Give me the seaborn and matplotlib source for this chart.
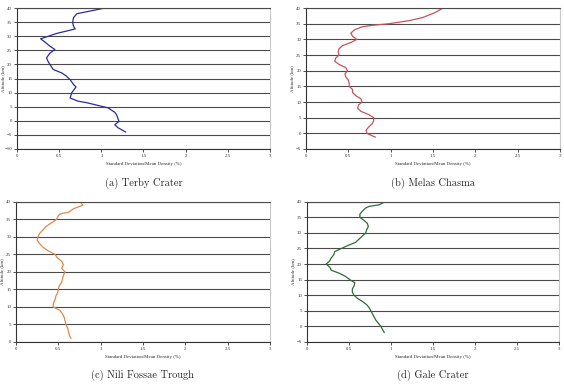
import numpy as np
import pandas as pd
import matplotlib
matplotlib.use("Agg")
import matplotlib.pyplot as plt
import seaborn as sns

# altitude (km) vs std/mean density (%) for each site
terby_alt = [40, 38, 36.6, 34.8, 33.6, 32.6, 31, 29.1, 28, 26.5, 25.3, 24, 22.3, 21, 20, 18.2, 17, 16,
             14.6, 12.9, 12, 10, 8.1, 7, 6.4, 4.6, 3, 2.2, -0.2, -1.4, -2.5, -4]
terby_val = [1.04, 0.71, 0.67, 0.66, 0.67, 0.69, 0.47, 0.28, 0.33, 0.39, 0.45, 0.39, 0.35, 0.37, 0.39,
             0.43, 0.53, 0.58, 0.63, 0.67, 0.70, 0.65, 0.63, 0.72, 0.83, 1.08, 1.16, 1.18, 1.21, 1.16, 1.20, 1.29]

melas_alt = [40, 38.5, 37, 36, 35, 34.5, 34, 33, 32, 31, 30, 29, 28, 27, 26, 25, 24, 23, 22, 21, 20, 19,
             18, 17, 16, 15, 14, 13, 12, 11, 10, 9, 8, 7, 6, 5, 4, 3, 2, 1, 0, -1, -1.2]
melas_val = [1.62, 1.52, 1.38, 1.22, 0.98, 0.78, 0.66, 0.57, 0.53, 0.55, 0.60, 0.53, 0.43, 0.39, 0.38,
             0.39, 0.35, 0.34, 0.39, 0.47, 0.49, 0.46, 0.47, 0.50, 0.51, 0.51, 0.55, 0.55, 0.59, 0.65,
             0.66, 0.62, 0.61, 0.65, 0.74, 0.80, 0.80, 0.78, 0.74, 0.71, 0.72, 0.80, 0.82]

nili_alt = [40, 39, 38, 37, 36.5, 36, 35, 34, 33, 32, 31, 30, 29, 28, 27, 26, 25, 24, 23, 22, 21, 20,
            19, 18, 17, 16, 15, 14, 13, 12, 11, 10, 9, 8, 7, 6, 5, 4, 3, 2, 1]
nili_val = [0.76, 0.79, 0.68, 0.62, 0.52, 0.50, 0.48, 0.42, 0.36, 0.32, 0.28, 0.26, 0.25, 0.28, 0.32,
            0.38, 0.46, 0.49, 0.54, 0.56, 0.54, 0.58, 0.56, 0.55, 0.54, 0.51, 0.50, 0.49, 0.47, 0.46,
            0.44, 0.44, 0.52, 0.55, 0.57, 0.58, 0.59, 0.61, 0.62, 0.63, 0.65]

gale_alt = [40, 39, 38.5, 38, 37, 36, 35, 34, 33, 32, 31, 30, 29, 28, 27, 26, 25, 24, 23, 22, 21, 20,
            19, 18, 17, 16, 15, 14, 13, 12, 11, 10, 9, 8, 7, 6, 5, 4, 3, 2, 1, 0, -1, -2]
gale_val = [0.93, 0.86, 0.74, 0.70, 0.66, 0.63, 0.63, 0.68, 0.72, 0.73, 0.71, 0.70, 0.66, 0.62, 0.58,
            0.49, 0.41, 0.33, 0.32, 0.29, 0.27, 0.23, 0.27, 0.29, 0.39, 0.46, 0.51, 0.57, 0.56, 0.54,
            0.54, 0.56, 0.60, 0.66, 0.71, 0.74, 0.76, 0.78, 0.80, 0.82, 0.85, 0.88, 0.90, 0.92]

panels = [
    ("(a) Terby Crater", terby_val, terby_alt, "#2b2b9e", -10, [0.0301, 0.613, 0.4486, 0.366], 0.525),
    ("(b) Melas Chasma", melas_val, melas_alt, "#c4525c", -5, [0.5426, 0.613, 0.4500, 0.366], 0.525),
    ("(c) Nili Fossae Trough", nili_val, nili_alt, "#e0894a", 0, [0.0284, 0.1117, 0.4500, 0.3644], 0.024),
    ("(d) Gale Crater", gale_val, gale_alt, "#2f6b35", -5, [0.5443, 0.1117, 0.4468, 0.3644], 0.024),
]

sns.set_style("white")
plt.rcParams['font.family'] = ['Liberation Serif', 'DejaVu Serif']

fig = plt.figure(figsize=(5.64, 3.85), dpi=100)
for title, xv, yv, col, ymin, rect, cap_y in panels:
    ax = fig.add_axes(rect)
    df = pd.DataFrame({"x": xv, "y": yv})
    sns.lineplot(data=df, x="x", y="y", sort=False, estimator=None, color=col, lw=0.9, ax=ax)
    ax.set_xlim(0, 3)
    ax.set_ylim(ymin, 40)
    ax.set_xticks(np.arange(0, 3.01, 0.5))
    ax.set_xticklabels(["0", "0.5", "1", "1.5", "2", "2.5", "3"])
    ax.set_yticks(np.arange(ymin, 40.1, 5))
    ax.yaxis.grid(True, color="#4a4a4a", lw=0.8)
    ax.xaxis.grid(False)
    ax.tick_params(labelsize=3.5, length=2, width=0.6, pad=1.5, colors="#333333")
    ax.tick_params(axis="both", direction="out", left=True, bottom=True)
    for s in ["left", "bottom"]:
        ax.spines[s].set_color("#333333")
        ax.spines[s].set_linewidth(0.8)
    ax.spines["top"].set_color("#4a4a4a")
    ax.spines["top"].set_linewidth(0.8)
    ax.spines["right"].set_color("#c8c8c8")
    ax.spines["right"].set_linewidth(0.8)
    ax.set_xlabel("Standard Deviation/Mean Density (%)", fontsize=3.5, labelpad=3)
    ax.set_ylabel("Altitude (km)", fontsize=3.5)
    ax.yaxis.set_label_coords(-0.048, 0.5)
    pos = ax.get_position()
    fig.text(pos.x0 + pos.width / 2, cap_y, title, ha="center", va="center",
             fontsize=7.5, family="cmr10")

plt.savefig("out.png", dpi=100)
